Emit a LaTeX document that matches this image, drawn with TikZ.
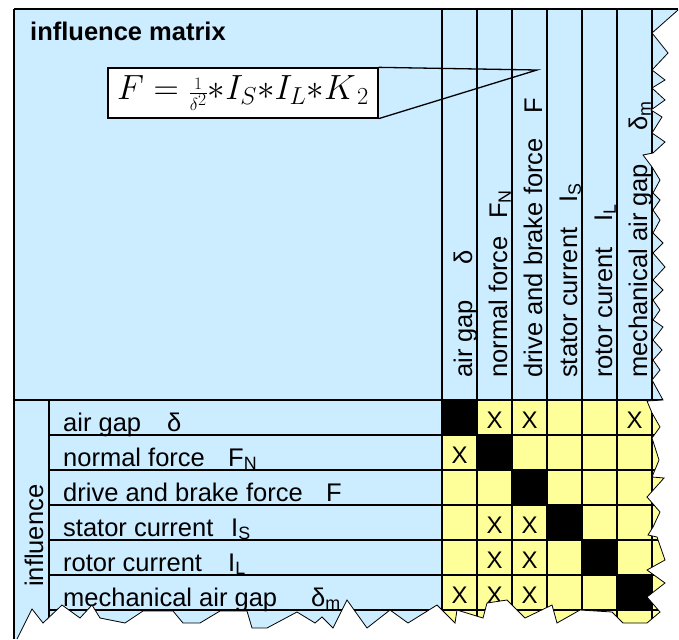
\RequirePackage{fix-cm}
\documentclass[tikz,border=0pt]{standalone}
\usepackage{fontspec}
\setmainfont{Liberation Sans}
\definecolor{paleblue}{HTML}{CCECFF}
\definecolor{paleyellow}{HTML}{FFFF99}
\begin{document}
\begin{tikzpicture}[x=1pt, y=-1pt,
    txt/.style={anchor=base west, inner sep=0pt, font=\fontsize{25.5}{30}\selectfont},
    coltxt/.style={txt, rotate=90},
    cross/.style={anchor=base, inner sep=0pt, font=\fontsize{24}{28}\selectfont},
    cellline/.style={line width=1.1pt},
    rowline/.style={line width=1.3pt}]
\useasboundingbox (0,0) rectangle (679,639);
% torn right and bottom edge of the sheet
\def\tornedge{(678,10) -- (652,33) -- (668,53) -- (652,70) -- (665,80) -- (652,88) -- (665,100) -- (651,110) -- (662,117) -- (652,133) -- (665,142) -- (653,153) -- (643,155) -- (652,167) -- (660,180) -- (653,193) -- (660,200) -- (653,210) -- (660,220) -- (653,233) -- (663,243) -- (653,253) -- (665,267) -- (653,280) -- (663,290) -- (653,300) -- (660,310) -- (653,320) -- (663,327) -- (653,340) -- (662,350) -- (653,360) -- (660,370) -- (652,380) -- (663,400) -- (647,401) -- (652,413) -- (660,427) -- (652,438) -- (659,460) -- (652,477) -- (664,478) -- (647,497) -- (660,512) -- (653,527) -- (648,535) -- (657,537) -- (665,560) -- (647,570) -- (665,583) -- (647,597) -- (660,612) -- (647,623) -- (623,623) -- (612,612) -- (580,610) -- (557,623) -- (552,605) -- (525,618) -- (507,600) -- (487,603) -- (483,618) -- (457,610) -- (455,623) -- (437,605) -- (408,623) -- (390,610) -- (367,628) -- (347,600) -- (333,628) -- (322,617) -- (315,623) -- (297,612) -- (267,628) -- (252,628) -- (247,611) -- (220,611) -- (200,623) -- (183,623) -- (173,611) -- (143,611) -- (125,623) -- (100,618) -- (92,605) -- (80,618) -- (62,605) -- (43,623) -- (32,609) -- (17,639)}

% Fill the areas
\fill[paleblue] (14,9) rectangle (679,639);
\fill[paleyellow] (442,400) rectangle (679,639);
\foreach \i in {0,...,5}
  \fill[black] (442+35*\i, 400+35*\i) rectangle +(35,35);

% Draw the grid
\foreach \k in {0,...,6}
  \draw[cellline] (442+35*\k, 9) -- (442+35*\k, 639);
\foreach \k in {1,...,6}
  \draw[rowline] (49, 400+35*\k) -- (679, 400+35*\k);
\draw[line width=2pt] (14,400) -- (679,400);
\draw[rowline] (49,400) -- (49,639);

% Title and formula
\node[anchor=base west, inner sep=0pt, font=\fontsize{25.5}{30}\selectfont\bfseries] (title) at (30,41) {influence matrix};
\node[draw, line width=1.3pt, fill=white, minimum width=270pt, minimum height=50pt, inner sep=0pt] (formula) at (243,93)
  {\fontsize{35}{42}\selectfont $F = {\scriptstyle\frac{1}{\delta^{2}}}{*}I_{S}{*}I_{L}{*}K_{\,2}$};
\coordinate (tip) at (537,70);
\draw[line width=1.3pt] (formula.north east) -- (tip) -- (formula.south east);

% Column headings
\node[coltxt] (c1) at (472,378) {air gap};
\node[coltxt] (c1s) at (472,265) {δ};
\node[coltxt] (c2) at (507,378) {normal force};
\node[coltxt] (c2s) at (507,219) {F\textsubscript{N}};
\node[coltxt] (c3) at (542,378) {drive and brake force};
\node[coltxt] (c3s) at (542,114) {F};
\node[coltxt] (c4) at (577,378) {stator current};
\node[coltxt] (c4s) at (577,203) {I\textsubscript{S}};
\node[coltxt] (c5) at (612,378) {rotor curent};
\node[coltxt] (c5s) at (612,222) {I\textsubscript{L}};
\node[coltxt] (c6) at (647,378) {mechanical air gap};
\node[coltxt] (c6s) at (647,131) {δ\textsubscript{m}};

% Row headings
\node[coltxt] (infl) at (43,587) {influence};
\node[txt] (r1) at (63,431) {air gap};
\node[txt] (r1s) at (167,431) {δ};
\node[txt] (r2) at (63,466) {normal force};
\node[txt] (r2s) at (228,466) {F\textsubscript{N}};
\node[txt] (r3) at (63,501) {drive and brake force};
\node[txt] (r3s) at (326,501) {F};
\node[txt] (r4) at (63,536) {stator current};
\node[txt] (r4s) at (231,536) {I\textsubscript{S}};
\node[txt] (r5) at (63,571) {rotor current};
\node[txt] (r5s) at (228,571) {I\textsubscript{L}};
\node[txt] (r6) at (63,606) {mechanical air gap};
\node[txt] (r6s) at (311,606) {δ\textsubscript{m}};

% Crosses in the matrix (column/row)
\foreach \c/\r in {2/1, 3/1, 6/1, 1/2, 2/4, 3/4, 2/5, 3/5, 1/6, 2/6, 3/6}
  \node[cross] (x\c\r) at (424.5+35*\c, 393+35*\r) {X};

% Tear off the sheet
\fill[white] \tornedge -- (679,639) -- (679,10) -- cycle;
\draw[line width=0.8pt] \tornedge;
\draw[line width=2.5pt] (14,9) -- (678,9);
\draw[line width=1.8pt] (14,9) -- (14,639);
\end{tikzpicture}
\end{document}
